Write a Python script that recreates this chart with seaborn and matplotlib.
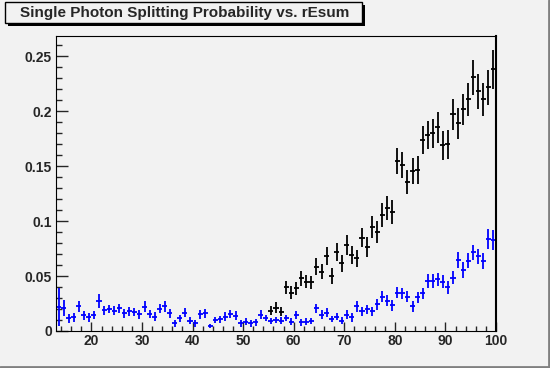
import numpy as np
import pandas as pd
import matplotlib
matplotlib.use('Agg')
import matplotlib.pyplot as plt
import seaborn as sns
from matplotlib.patches import Rectangle
from matplotlib.lines import Line2D
from matplotlib.ticker import MultipleLocator, FuncFormatter

# bins of width 1 from 13 to 100 (rEsum)
x_min, x_max = 13, 100
title_text = "Single Photon Splitting Probability vs. rEsum"

# blue series, one value per bin from 13.5 to 99.5
blue_vals = [0.022, 0.021, 0.0115, 0.0124, 0.0227, 0.0143, 0.0124, 0.0145, 0.0273, 0.019,
             0.020, 0.0185, 0.0206, 0.016, 0.0179, 0.0173, 0.0152, 0.022, 0.0155, 0.013,
             0.0203, 0.0224, 0.016, 0.007, 0.0115, 0.0167, 0.0094, 0.007, 0.0152, 0.016,
             0.0045, 0.010, 0.0106, 0.013, 0.0155, 0.014, 0.007, 0.0085, 0.007, 0.008,
             0.015, 0.012, 0.009, 0.010, 0.0094, 0.012, 0.0085, 0.0145, 0.008, 0.0085,
             0.009, 0.0206, 0.015, 0.0167, 0.011, 0.013, 0.0094, 0.015, 0.0124, 0.0227,
             0.018, 0.0197, 0.018, 0.0242, 0.031, 0.0273, 0.0233, 0.035, 0.0342, 0.031,
             0.0227, 0.0306, 0.0342, 0.0455, 0.0455, 0.047, 0.0448, 0.0397, 0.0485, 0.0645,
             0.0555, 0.064, 0.0715, 0.068, 0.0636, 0.0833, 0.0827]
blue_errs = [0.017, 0.007, 0.004, 0.004, 0.005, 0.004, 0.004, 0.004, 0.006, 0.004,
             0.004, 0.004, 0.004, 0.004, 0.004, 0.004, 0.004, 0.005, 0.004, 0.004,
             0.004, 0.005, 0.004, 0.003, 0.003, 0.004, 0.003, 0.003, 0.004, 0.004,
             0.002, 0.003, 0.003, 0.004, 0.004, 0.004, 0.003, 0.003, 0.003, 0.003,
             0.004, 0.003, 0.003, 0.003, 0.003, 0.003, 0.003, 0.004, 0.003, 0.003,
             0.003, 0.004, 0.004, 0.004, 0.003, 0.003, 0.003, 0.004, 0.004, 0.005,
             0.004, 0.004, 0.004, 0.005, 0.005, 0.005, 0.005, 0.005, 0.005, 0.005,
             0.005, 0.005, 0.005, 0.006, 0.006, 0.006, 0.006, 0.006, 0.006, 0.007,
             0.007, 0.007, 0.007, 0.007, 0.007, 0.009, 0.009]

# black series, bins 55.5 to 99.5
black_vals = [0.0185, 0.021, 0.0176, 0.0397, 0.0348, 0.0388, 0.0479, 0.0448, 0.0442, 0.0585,
              0.054, 0.068, 0.050, 0.072, 0.0615, 0.078, 0.069, 0.066, 0.085, 0.0767,
              0.0942, 0.0903, 0.1055, 0.1115, 0.108, 0.1545, 0.1509, 0.1352, 0.1455, 0.1464,
              0.1736, 0.1782, 0.1797, 0.1852, 0.1688, 0.1697, 0.197, 0.1888, 0.2015, 0.2106,
              0.2306, 0.2179, 0.2106, 0.2215, 0.2379]
black_errs = [0.004, 0.005, 0.004, 0.006, 0.006, 0.006, 0.007, 0.006, 0.006, 0.008,
              0.007, 0.008, 0.007, 0.008, 0.008, 0.009, 0.008, 0.008, 0.009, 0.009,
              0.010, 0.010, 0.011, 0.011, 0.011, 0.012, 0.012, 0.011, 0.012, 0.013,
              0.013, 0.013, 0.013, 0.014, 0.013, 0.013, 0.014, 0.014, 0.014, 0.015,
              0.016, 0.016, 0.015, 0.016, 0.018]

centers = np.arange(x_min, x_max) + 0.5
blue = pd.DataFrame({'rEsum': centers, 'p': blue_vals, 'err': blue_errs})
black = pd.DataFrame({'rEsum': centers[-len(black_vals):], 'p': black_vals, 'err': black_errs})

bg = '#f2f2f2'
sns.set_style('ticks', rc={'axes.facecolor': bg, 'figure.facecolor': bg,
                           'axes.edgecolor': 'black', 'axes.linewidth': 1.0,
                           'xtick.direction': 'in', 'ytick.direction': 'in'})
plt.rcParams['font.family'] = ['Liberation Sans', 'DejaVu Sans']
plt.rcParams['font.weight'] = 'bold'

W, H = 550, 368
fig = plt.figure(figsize=(W / 100, H / 100), dpi=100)
ax = fig.add_axes([56 / W, 1 - 331 / H, 440 / W, 295 / H])

for d, c in [(black, 'black'), (blue, 'blue')]:
    ax.errorbar(d['rEsum'], d['p'], xerr=0.5, yerr=d['err'], fmt='none',
                ecolor=c, elinewidth=1.3, capsize=0)

ax.set_xlim(x_min, x_max)
ax.set_ylim(0, 0.2682)
ax.xaxis.set_major_locator(MultipleLocator(10))
ax.xaxis.set_minor_locator(MultipleLocator(2))
ax.yaxis.set_major_locator(MultipleLocator(0.05))
ax.yaxis.set_minor_locator(MultipleLocator(0.01))
ax.yaxis.set_major_formatter(FuncFormatter(lambda v, p: '%g' % round(v, 3)))
ax.tick_params(axis='y', which='major', length=8.6, width=1, labelsize=10, pad=3)
ax.tick_params(axis='y', which='minor', length=4.3, width=1)
ax.tick_params(axis='x', which='major', length=6.5, width=1, labelsize=10, pad=2)
ax.tick_params(axis='x', which='minor', length=3.4, width=1)
for lab in ax.get_xticklabels() + ax.get_yticklabels():
    lab.set_fontweight('bold')
ax.spines['right'].set_linewidth(1.5)

# title box with shadow, ROOT style
def px(x0, y0, w, h):
    return (x0 / W, 1 - (y0 + h) / H), w / W, h / H

xy, w, h = px(8, 5, 357, 21)
fig.add_artist(Rectangle(xy, w, h, transform=fig.transFigure, facecolor='black',
                         edgecolor='none', zorder=5))
xy, w, h = px(5, 2, 357, 21)
fig.add_artist(Rectangle(xy, w, h, transform=fig.transFigure, facecolor=bg,
                         edgecolor='black', linewidth=1, zorder=6))
fig.text(20 / W, 1 - 12.5 / H, title_text, ha='left', va='center',
         fontsize=11, fontweight='bold', zorder=7)

# canvas border on the right and bottom
fig.add_artist(Line2D([1 - 1.5 / W, 1 - 1.5 / W], [0, 1], transform=fig.transFigure,
                      color='#808080', linewidth=2))
fig.add_artist(Line2D([0, 1], [1.5 / H, 1.5 / H], transform=fig.transFigure,
                      color='#808080', linewidth=2))

fig.savefig('out.png', dpi=100, facecolor=bg)
